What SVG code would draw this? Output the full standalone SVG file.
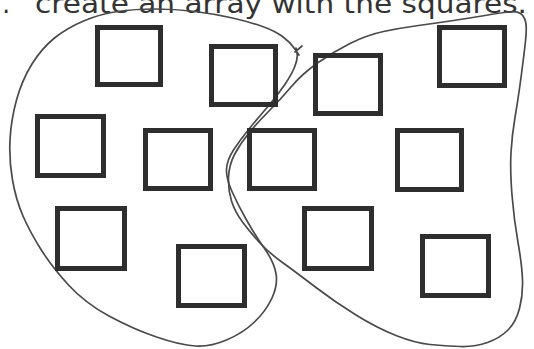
<svg xmlns="http://www.w3.org/2000/svg" width="534" height="349" viewBox="0 0 534 349">
<style>
.sq{fill:none;stroke:#2e2e2e;stroke-width:5}
.blob{fill:none;stroke:#4a4a4a;stroke-width:1.7;stroke-linejoin:round;stroke-linecap:round}
.t{font-family:"DejaVu Sans","Open Sans",sans-serif;font-size:26px;fill:#333}
</style>
<rect width="534" height="349" fill="#fff"/>
<text class="t" x="2" y="13">.</text>
<text class="t" x="35" y="13" textLength="492" lengthAdjust="spacingAndGlyphs">create an array with the squares.</text>
<g id="connectors">
<path class="blob" id="blob-left" d="M299,55 L294.5,48.5 Q290,42 282.5,36.5 Q275,31 262.5,26.5 Q250,22 232.5,18 Q215,14 195,11.5 Q175,9 155,9 Q135,9 117.5,11.5 Q100,14 83.5,21 Q67,28 54.5,38 Q42,48 32,64 Q22,80 16.5,100 Q11,120 10,140 Q9,160 12.5,180 Q16,200 23,216 Q30,232 41,249.5 Q52,267 68.5,285 Q85,303 109,316 Q133,329 156.5,337 Q180,345 195,346 Q210,347 226.5,340 Q243,333 254.5,322 Q266,311 272,298 Q278,285 276,273.5 Q274,262 264.5,248.5 Q255,235 246.5,220 Q238,205 232,191.5 Q226,178 226.5,169 Q227,160 233.5,150 Q240,140 249,129 Q258,118 267.5,107 Q277,96 284.5,85 Q292,74 295,66 Q298,58 297,53 L296,48 M295,52 L302,46"/>
<path class="blob" id="blob-right" d="M508.5,12 Q517,11 520.5,13.5 Q524,16 525.5,21.5 Q527,27 525.5,41 Q524,55 521,77.5 Q518,100 515,117.5 Q512,135 511,152.5 Q510,170 512,195 Q514,220 518,242.5 Q522,265 522.5,280 Q523,295 519.5,308.5 Q516,322 508,330 Q500,338 487.5,342.5 Q475,347 460,346.5 Q445,346 430,344.5 Q415,343 396,335.5 Q377,328 356,315 Q335,302 316,287.5 Q297,273 282.5,262.5 Q268,252 259,242 Q250,232 242.5,222 Q235,212 231.5,201 Q228,190 228.5,177.5 Q229,165 234.5,154.5 Q240,144 249,133 Q258,122 269,111 Q280,100 291,87 Q302,74 317.5,63 Q333,52 350,43.5 Q367,35 383.5,31.5 Q400,28 418.5,25.5 Q437,23 453.5,20.5 Q470,18 485,15.5 Q500,13 508.5,12 Z"/>
</g>
<g id="sq1"><rect class="sq" x="97.5" y="27.5" width="63" height="57"/></g>
<g id="sq2"><rect class="sq" x="211.5" y="46.5" width="64" height="58"/></g>
<g id="sq3"><rect class="sq" x="315.5" y="55.5" width="65" height="58"/></g>
<g id="sq4"><rect class="sq" x="439.5" y="27.5" width="65" height="58"/></g>
<g id="sq5"><rect class="sq" x="37.5" y="116.5" width="66" height="59"/></g>
<g id="sq6"><rect class="sq" x="145.5" y="130.5" width="65" height="58"/></g>
<g id="sq7"><rect class="sq" x="249.5" y="130.5" width="65" height="58"/></g>
<g id="sq8"><rect class="sq" x="397.5" y="130.5" width="64" height="59"/></g>
<g id="sq9"><rect class="sq" x="57.5" y="208.5" width="67" height="60"/></g>
<g id="sq10"><rect class="sq" x="178.5" y="246.5" width="66" height="59"/></g>
<g id="sq11"><rect class="sq" x="304.5" y="208.5" width="67" height="60"/></g>
<g id="sq12"><rect class="sq" x="422.5" y="236.5" width="66" height="59"/></g>
</svg>
